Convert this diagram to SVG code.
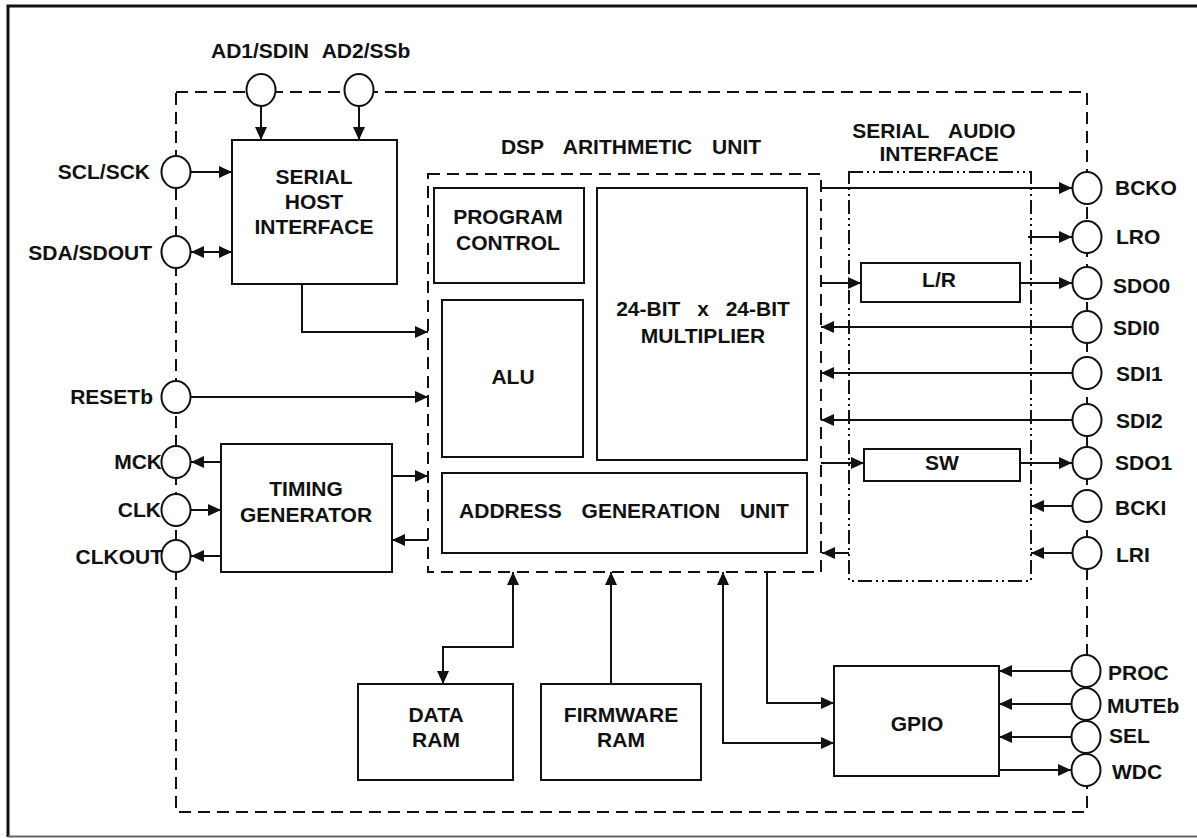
<svg xmlns="http://www.w3.org/2000/svg" width="1197" height="838" viewBox="0 0 1197 838">
<style>
text{font-family:"Liberation Sans",Arial,sans-serif;font-weight:bold;font-size:21px;fill:#111}
.c{text-anchor:middle}
.r{text-anchor:end}
.box{fill:#fff;stroke:#111;stroke-width:2}
.pin{fill:#fff;stroke:#111;stroke-width:2}
.dash{fill:none;stroke:#111;stroke-width:2;stroke-dasharray:12,7}
.dd{fill:none;stroke:#111;stroke-width:2;stroke-dasharray:14,4,2,4,2,4}
.ln{fill:none;stroke:#111;stroke-width:2}
.a{marker-end:url(#ah)}
.b{marker-start:url(#ah);marker-end:url(#ah)}
.ws{word-spacing:14px}
</style>
<defs>
<marker id="ah" markerUnits="userSpaceOnUse" markerWidth="14" markerHeight="13" refX="13" refY="6.5" orient="auto-start-reverse">
<path d="M0,0.5 L13,6.5 L0,12.5 z" fill="#111"/>
</marker>
</defs>
<rect width="1197" height="838" fill="#fff"/>
<g id="frame">
<path d="M8,837 V6 H1197" fill="none" stroke="#111" stroke-width="3"/>
<path d="M8,836.5 H1197" stroke="#666" stroke-width="2"/>
</g>
<g id="chip-boundary"><rect class="dash" x="176" y="92" width="911" height="720"/></g>
<g id="dsp-unit">
<rect class="dash" x="428" y="174" width="393" height="398"/>
<text class="c ws" x="631" y="154">DSP ARITHMETIC UNIT</text>
</g>
<g id="serial-audio-interface">
<rect class="dd" x="849" y="172" width="182" height="409"/>
<text class="c ws" x="934" y="138">SERIAL AUDIO</text>
<text class="c" x="939" y="161">INTERFACE</text>
</g>
<g id="connectors">
<line class="ln a" x1="261" y1="106" x2="261" y2="140"/>
<line class="ln a" x1="359" y1="106" x2="359" y2="140"/>
<line class="ln a" x1="191" y1="172" x2="232" y2="172"/>
<line class="ln b" x1="191" y1="252" x2="232" y2="252"/>
<path class="ln a" d="M302,284 V332 H428"/>
<line class="ln a" x1="191" y1="397" x2="428" y2="397"/>
<line class="ln a" x1="221" y1="462" x2="191" y2="462"/>
<line class="ln a" x1="191" y1="510" x2="221" y2="510"/>
<line class="ln a" x1="221" y1="556" x2="191" y2="556"/>
<line class="ln a" x1="392" y1="476" x2="428" y2="476"/>
<line class="ln a" x1="428" y1="540" x2="392" y2="540"/>
<line class="ln a" x1="822" y1="188" x2="1072" y2="188"/>
<line class="ln a" x1="1028" y1="237" x2="1072" y2="237"/>
<line class="ln a" x1="821" y1="283" x2="861" y2="283"/>
<line class="ln a" x1="1020" y1="283" x2="1072" y2="283"/>
<line class="ln a" x1="1072" y1="327" x2="821" y2="327"/>
<line class="ln a" x1="1072" y1="373" x2="821" y2="373"/>
<line class="ln a" x1="1072" y1="420" x2="821" y2="420"/>
<line class="ln a" x1="821" y1="463" x2="864" y2="463"/>
<line class="ln a" x1="1020" y1="463" x2="1072" y2="463"/>
<line class="ln a" x1="1072" y1="506" x2="1031" y2="506"/>
<line class="ln a" x1="1072" y1="553" x2="1031" y2="553"/>
<line class="ln a" x1="849" y1="553" x2="822" y2="553"/>
<path class="ln a" d="M767,572 V703 H834"/>
<path class="ln b" d="M723,572 V743 H834"/>
<path class="ln b" d="M513,572 V647 H443 V684"/>
<line class="ln a" x1="611" y1="684" x2="611" y2="572"/>
<line class="ln a" x1="1071" y1="671" x2="999" y2="671"/>
<line class="ln a" x1="1071" y1="704" x2="999" y2="704"/>
<line class="ln a" x1="1071" y1="737" x2="999" y2="737"/>
<line class="ln a" x1="999" y1="770" x2="1071" y2="770"/>
</g>
<g id="serial-host-interface">
<rect class="box" x="232" y="140" width="165" height="144"/>
<text class="c" x="314" y="184">SERIAL</text>
<text class="c" x="314" y="209">HOST</text>
<text class="c" x="314" y="234">INTERFACE</text>
</g>
<g id="timing-generator">
<rect class="box" x="221" y="444" width="171" height="128"/>
<text class="c" x="306" y="496">TIMING</text>
<text class="c" x="306" y="522">GENERATOR</text>
</g>
<g id="program-control">
<rect class="box" x="434" y="188" width="150" height="95"/>
<text class="c" x="508" y="224">PROGRAM</text>
<text class="c" x="508" y="250">CONTROL</text>
</g>
<g id="alu">
<rect class="box" x="442" y="300" width="141" height="157"/>
<text class="c" x="513" y="384">ALU</text>
</g>
<g id="multiplier">
<rect class="box" x="597" y="188" width="210" height="272"/>
<text class="c" x="703" y="316" style="word-spacing:11px">24-BIT x 24-BIT</text>
<text class="c" x="703" y="343">MULTIPLIER</text>
</g>
<g id="address-generation-unit">
<rect class="box" x="442" y="473" width="365" height="80"/>
<text class="c ws" x="624" y="518">ADDRESS GENERATION UNIT</text>
</g>
<g id="lr">
<rect class="box" x="861" y="263" width="159" height="39"/>
<text class="c" x="939" y="287">L/R</text>
</g>
<g id="sw">
<rect class="box" x="864" y="449" width="156" height="32"/>
<text class="c" x="942" y="470">SW</text>
</g>
<g id="gpio">
<rect class="box" x="834" y="666" width="165" height="110"/>
<text class="c" x="917" y="731">GPIO</text>
</g>
<g id="data-ram">
<rect class="box" x="358" y="684" width="155" height="96"/>
<text class="c" x="436" y="722">DATA</text>
<text class="c" x="436" y="747">RAM</text>
</g>
<g id="firmware-ram">
<rect class="box" x="541" y="684" width="160" height="96"/>
<text class="c" x="621" y="722">FIRMWARE</text>
<text class="c" x="621" y="747">RAM</text>
</g>
<g id="pin-ad1"><ellipse class="pin" cx="261" cy="90" rx="14.5" ry="16"/><text class="c" x="260" y="58">AD1/SDIN</text></g>
<g id="pin-ad2"><ellipse class="pin" cx="359" cy="90" rx="14.5" ry="16"/><text class="c" x="366" y="58">AD2/SSb</text></g>
<g id="pin-scl"><ellipse class="pin" cx="176" cy="172" rx="14.5" ry="16"/><text class="r" x="150" y="179">SCL/SCK</text></g>
<g id="pin-sda"><ellipse class="pin" cx="176" cy="252" rx="14.5" ry="16"/><text class="r" x="152" y="260">SDA/SDOUT</text></g>
<g id="pin-reset"><ellipse class="pin" cx="176" cy="397" rx="14.5" ry="16"/><text class="r" x="153" y="404">RESETb</text></g>
<g id="pin-mck"><ellipse class="pin" cx="176" cy="462" rx="14.5" ry="16"/><text class="r" x="162" y="469">MCK</text></g>
<g id="pin-clk"><ellipse class="pin" cx="176" cy="510" rx="14.5" ry="16"/><text class="r" x="161" y="517">CLK</text></g>
<g id="pin-clkout"><ellipse class="pin" cx="176" cy="556" rx="14.5" ry="16"/><text class="r" x="163" y="564">CLKOUT</text></g>
<g id="pin-bcko"><ellipse class="pin" cx="1087" cy="188" rx="14.5" ry="16"/><text x="1115" y="195">BCKO</text></g>
<g id="pin-lro"><ellipse class="pin" cx="1087" cy="237" rx="14.5" ry="16"/><text x="1116" y="244">LRO</text></g>
<g id="pin-sdo0"><ellipse class="pin" cx="1087" cy="283" rx="14.5" ry="16"/><text x="1113" y="293">SDO0</text></g>
<g id="pin-sdi0"><ellipse class="pin" cx="1087" cy="327" rx="14.5" ry="16"/><text x="1113" y="335">SDI0</text></g>
<g id="pin-sdi1"><ellipse class="pin" cx="1087" cy="373" rx="14.5" ry="16"/><text x="1116" y="381">SDI1</text></g>
<g id="pin-sdi2"><ellipse class="pin" cx="1087" cy="420" rx="14.5" ry="16"/><text x="1116" y="428">SDI2</text></g>
<g id="pin-sdo1"><ellipse class="pin" cx="1087" cy="463" rx="14.5" ry="16"/><text x="1115" y="470">SDO1</text></g>
<g id="pin-bcki"><ellipse class="pin" cx="1087" cy="506" rx="14.5" ry="16"/><text x="1115" y="515">BCKI</text></g>
<g id="pin-lri"><ellipse class="pin" cx="1087" cy="553" rx="14.5" ry="16"/><text x="1116" y="562">LRI</text></g>
<g id="pin-proc"><ellipse class="pin" cx="1086" cy="671" rx="14.5" ry="16"/><text x="1108" y="680">PROC</text></g>
<g id="pin-muteb"><ellipse class="pin" cx="1086" cy="704" rx="14.5" ry="16"/><text x="1107" y="713">MUTEb</text></g>
<g id="pin-sel"><ellipse class="pin" cx="1086" cy="737" rx="14.5" ry="16"/><text x="1109" y="743">SEL</text></g>
<g id="pin-wdc"><ellipse class="pin" cx="1086" cy="770" rx="14.5" ry="16"/><text x="1112" y="779">WDC</text></g>
</svg>
